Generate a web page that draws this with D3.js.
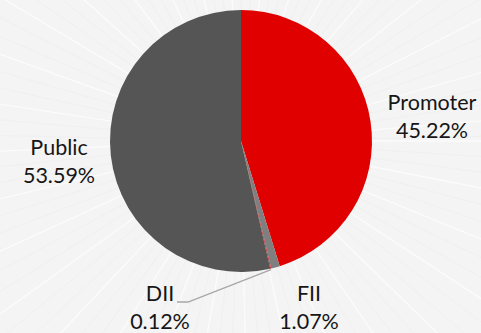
<!DOCTYPE html>
<html>
<head>
<meta charset="utf-8">
<script src="https://cdn.jsdelivr.net/npm/d3@7"></script>
<style>
  html, body { margin: 0; padding: 0; background: #f4f4f4; }
  svg { display: block; }
  text { font-family: Lato, "Open Sans", sans-serif; font-size: 21.5px; fill: #161616; }
</style>
</head>
<body>
<svg id="chart" width="481" height="333"></svg>
<script>
// Shareholding pattern
const categories = ["Promoter", "FII", "DII", "Public"];
const shares = [45.22, 1.07, 0.12, 53.59];
const valueLabels = ["45.22%", "1.07%", "0.12%", "53.59%"];
const sliceColors = ["#e00000", "#7f7f7f", "#c83030", "#555555"];

const W = 481, H = 333;
const cx = 241, cy = 141, R = 131;

const svg = d3.select("#chart");

// Soft starburst backdrop
const bg = svg.append("g");
bg.append("rect").attr("width", W).attr("height", H).attr("fill", "#f4f4f4");
const rays = d3.range(0, 360, 3.7);
bg.selectAll("line.ray")
  .data(rays)
  .join("line")
  .attr("class", "ray")
  .attr("x1", d => cx + 60 * Math.cos(d * Math.PI / 180))
  .attr("y1", d => cy + 60 * Math.sin(d * Math.PI / 180))
  .attr("x2", d => cx + 600 * Math.cos(d * Math.PI / 180))
  .attr("y2", d => cy + 600 * Math.sin(d * Math.PI / 180))
  .attr("stroke", (d, i) => i % 3 === 0 ? "#ffffff" : "#ebebeb")
  .attr("stroke-width", (d, i) => i % 3 === 0 ? 1.4 : 0.6)
  .attr("opacity", 0.7);

const rows = categories.map((c, i) => ({ name: c, value: shares[i], label: valueLabels[i], color: sliceColors[i] }));

const pie = d3.pie().sort(null).value(d => d.value);
const arcs = pie(rows);
const arc = d3.arc().innerRadius(0).outerRadius(R);

const g = svg.append("g").attr("transform", `translate(${cx},${cy})`);
g.selectAll("path.slice")
  .data(arcs)
  .join("path")
  .attr("class", "slice")
  .attr("d", arc)
  .attr("fill", d => d.data.color);

// Label anchors: centre of each two-line label block, relative to the pie centre
const labelOffset = {
  Promoter: [191, -24],
  Public: [-182, 21],
  FII: [68, 167],
  DII: [-81, 167]
};
const anchor = d => labelOffset[d.data.name];

const lineGap = 28;
const labels = g.selectAll("g.lbl")
  .data(arcs)
  .join("g")
  .attr("class", "lbl")
  .attr("transform", d => { const p = anchor(d); return `translate(${p[0]},${p[1]})`; });

labels.append("text")
  .attr("text-anchor", "middle")
  .attr("y", -lineGap / 2 + 7)
  .text(d => d.data.name);
labels.append("text")
  .attr("text-anchor", "middle")
  .attr("y", lineGap / 2 + 7)
  .text(d => d.data.label);

// Leader line for the thin DII slice
const dii = arcs.find(d => d.data.name === "DII");
const am = (dii.startAngle + dii.endAngle) / 2;
const p0 = [Math.sin(am) * (R + 1), -Math.cos(am) * (R + 1)];
const pa = anchor(dii);
const p1 = [pa[0] + 28, pa[1] - 6];
const p2 = [pa[0] + 17, pa[1] - 6];
g.append("polyline")
  .attr("points", [p0, p1, p2].map(p => p.join(",")).join(" "))
  .attr("fill", "none")
  .attr("stroke", "#a6a6a6")
  .attr("stroke-width", 1.3);
</script>
</body>
</html>
